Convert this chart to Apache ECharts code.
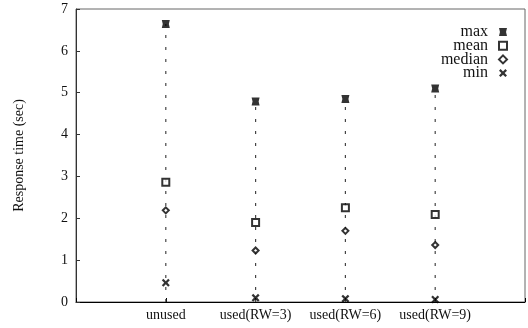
<!DOCTYPE html>
<html><head><meta charset="utf-8">
<script src="https://cdn.jsdelivr.net/npm/echarts@6/dist/echarts.min.js"></script>
<style>html,body{margin:0;padding:0;background:#fff}#c{width:528px;height:328px}</style>
</head><body><div id="c"></div>
<script>
const categories = ["unused", "used(RW=3)", "used(RW=6)", "used(RW=9)"];
const maxVals = [6.64, 4.79, 4.85, 5.10];
const meanVals = [2.86, 1.90, 2.25, 2.09];
const medianVals = [2.19, 1.23, 1.70, 1.36];
const minVals = [0.46, 0.10, 0.08, 0.06];
const yTicks = [0, 1, 2, 3, 4, 5, 6, 7];

const font = "'Liberation Serif','DejaVu Serif',serif";
const pos = categories.map((c, i) => i + 1);
const pts = arr => arr.map((v, i) => [pos[i], v]);

const maxPath = 'path://M0,0 L10,0 L8.8,5 L10,10 L0,10 L1.2,5 Z';
const crossPath = 'path://M0,2 L2,0 L5,3 L8,0 L10,2 L7,5 L10,8 L8,10 L5,7 L2,10 L0,8 L3,5 Z';

const chart = echarts.init(document.getElementById('c'), null, {renderer: 'canvas'});
const stemSeries = pos.map((p, i) => ({
  type: 'line', silent: true, symbol: 'none', z: 1,
  data: [[p, 0], [p, maxVals[i]]],
  lineStyle: {color: '#444', width: 1.2, type: [3, 9]}
}));

chart.setOption({
  animation: false,
  textStyle: {fontFamily: font},
  grid: {left: 76, right: -2, top: 9, bottom: 26, show: true, borderColor: '#666', borderWidth: 1},
  legend: {
    orient: 'vertical', right: 20, top: 24, align: 'right', itemGap: -2.3, padding: 0,
    itemWidth: 8, itemHeight: 8,
    textStyle: {fontFamily: font, fontSize: 16, color: '#111', padding: [0, 6, 0, 0]},
    data: [
      {name: 'max', icon: maxPath, itemStyle: {color: '#000'}},
      {name: 'mean', icon: 'rect', itemStyle: {color: '#fff', borderColor: '#000', borderWidth: 2}},
      {name: 'median', icon: 'diamond', itemStyle: {color: '#fff', borderColor: '#000', borderWidth: 2}},
      {name: 'min', icon: crossPath, itemStyle: {color: '#000'}}
    ]
  },
  xAxis: {
    type: 'value', min: 0, max: 5, interval: 1,
    axisLine: {show: true, lineStyle: {color: '#000', width: 1}},
    axisTick: {show: true, inside: true, length: 4, lineStyle: {color: '#000'}},
    splitLine: {show: false},
    axisLabel: {
      fontFamily: font, fontSize: 14, color: '#111', margin: 6,
      formatter: v => (v >= 1 && v <= categories.length) ? categories[v - 1] : ''
    }
  },
  yAxis: {
    type: 'value', min: yTicks[0], max: yTicks[yTicks.length - 1], interval: 1,
    name: 'Response time (sec)', nameLocation: 'middle', nameGap: 50, nameRotate: 90,
    nameTextStyle: {fontFamily: font, fontSize: 14, color: '#111'},
    axisLine: {show: true, lineStyle: {color: '#333', width: 1}},
    axisTick: {show: true, inside: true, length: 4, lineStyle: {color: '#333'}},
    splitLine: {show: false},
    axisLabel: {fontFamily: font, fontSize: 14, color: '#111', margin: 8}
  },
  series: stemSeries.concat([
    {name: 'max', type: 'scatter', data: pts(maxVals), symbol: maxPath, symbolSize: 8, z: 3,
     itemStyle: {color: '#000'}},
    {name: 'mean', type: 'scatter', data: pts(meanVals), symbol: 'rect', symbolSize: 7, z: 3,
     itemStyle: {color: '#fff', borderColor: '#000', borderWidth: 2}},
    {name: 'median', type: 'scatter', data: pts(medianVals), symbol: 'diamond', symbolSize: 6, z: 3,
     itemStyle: {color: '#fff', borderColor: '#000', borderWidth: 2}},
    {name: 'min', type: 'scatter', data: pts(minVals), symbol: crossPath, symbolSize: 8, z: 3,
     itemStyle: {color: '#000'}}
  ])
});
</script></body></html>
